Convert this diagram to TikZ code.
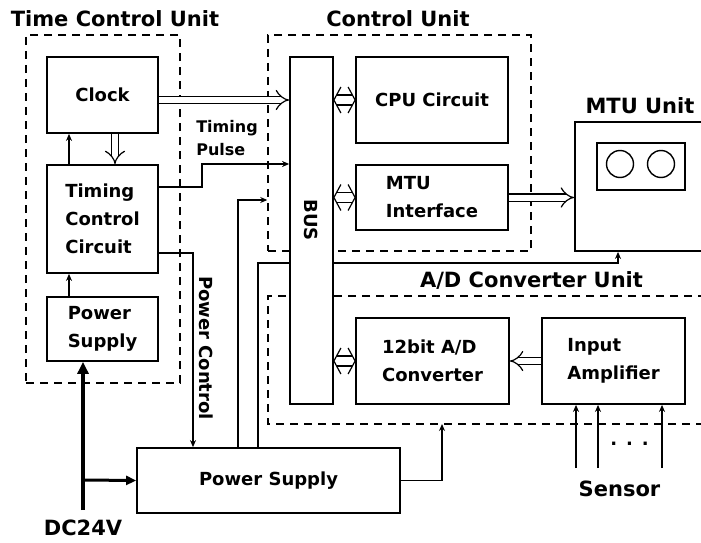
\documentclass[tikz,border=0pt]{standalone}
\usepackage{fontspec}
\setmainfont{DejaVu Sans}
\usetikzlibrary{arrows.meta}

\begin{document}
\begin{tikzpicture}[x=1pt,y=-1pt,
    blk/.style={draw,line width=1.8pt,fill=white,inner sep=0pt,align=left,
      font=\bfseries\fontsize{18}{28}\selectfont},
    unit/.style={draw,dash pattern=on 8pt off 6pt,line width=1.5pt,inner sep=0pt},
    ttl/.style={anchor=base,font=\bfseries\fontsize{21}{25}\selectfont},
    ln/.style={line width=1.4pt},
    dbl/.style={double,double distance=6pt,line width=1.2pt,-{Implies}},
    >={Stealth[length=7pt,width=6pt]}]
    \useasboundingbox (0,0) rectangle (701,543);
    \clip (0,0) rectangle (701,543);
    % unit frames
    \node[unit,minimum width=154pt,minimum height=348pt] (tcu) at (103,209) {};
    \node[unit,minimum width=263pt,minimum height=216pt] (cu) at (399.5,143) {};
    \draw[unit] (720,296) -| (268,424) -- (720,424);
    \node[ttl] (tcut) at (115,27) {Time Control Unit};
    \node[ttl] (cut) at (398,27) {Control Unit};
    \node[ttl] (mtut) at (640,113) {MTU Unit};
    \node[ttl] (adt) at (531.5,287) {A/D Converter Unit};
    \node[ttl] (dc) at (83,535) {DC24V};
    \node[ttl] (sensor) at (619.5,496) {Sensor};
    % blocks
    \node[blk,minimum width=111pt,minimum height=76pt] (clock) at (102.5,95) {Clock};
    \node[blk,minimum width=111pt,minimum height=108pt] (tcc) at (102.5,219) {Timing\\Control\\Circuit};
    \node[blk,minimum width=111pt,minimum height=64pt] (ps1) at (102.5,329) {Power\\Supply};
    \node[blk,minimum width=263pt,minimum height=65pt] (ps2) at (268.5,480.5) {Power Supply};
    \node[blk,minimum width=152pt,minimum height=86pt] (cpu) at (432,100) {CPU Circuit};
    \node[blk,minimum width=152pt,minimum height=65pt] (mtuif) at (432,197.5) {MTU\\Interface};
    \node[blk,minimum width=153pt,minimum height=86pt] (adc) at (432.5,361) {12bit A/D\\Converter};
    \node[blk,minimum width=143pt,minimum height=86pt] (amp) at (613.5,361) {Input\\Amplifier};
    \node[blk,minimum width=155pt,minimum height=129pt] (mtu) at (652.5,186.5) {};
    \node[blk,minimum width=88pt,minimum height=47pt] (disp) at (641,166.5) {};
    \node[draw,circle,line width=1.4pt,minimum size=27pt,inner sep=0pt] (reel1) at (620,164) {};
    \node[draw,circle,line width=1.4pt,minimum size=27pt,inner sep=0pt] (reel2) at (661,164) {};
    % power lines passing the bus
    \coordinate (pb) at (258,263);
    \coordinate (pm) at (618,263);
    \coordinate (pc) at (238,200);
    \coordinate (pa) at (442,424);
    \coordinate (tp) at (202,164);
    \node[blk,minimum width=43pt,minimum height=347pt] (bus) at (311.5,230.5) {};
    \node[rotate=-90,font=\bfseries\fontsize{18}{20}\selectfont] (bustxt) at (311,220) {BUS};
    \draw[ln] (ps2.north -| pb) |- (bus.west |- pb);
    \draw[ln,->] (bus.east |- pb) -| (mtu.south -| pm);
    \draw[ln,->] (ps2.north -| pc) |- (cu.west |- pc);
    \draw[ln,->] (ps2.east) -| (pa);
    % time control unit
    \draw[ln,->] ([xshift=-33.5pt]tcc.north) -- ([xshift=-33.5pt]clock.south);
    \draw[dbl] ([xshift=12.5pt]clock.south) -- ([xshift=12.5pt]tcc.north);
    \draw[ln,->] ([xshift=-33.5pt]ps1.north) -- ([xshift=-33.5pt]tcc.south);
    \draw[dbl] (clock.east |- cpu) -- (bus.west |- cpu);
    \draw[ln,->] ([yshift=32pt]tcc.east) -| (tp) -- (bus.west |- tp);
    \draw[ln,->] ([yshift=-34pt]tcc.east) -| ([xshift=-75.5pt]ps2.north);
    \node[align=left,font=\bfseries\fontsize{16}{23}\selectfont] (tplbl) at (227,138) {Timing\\Pulse};
    \node[rotate=-90,font=\bfseries\fontsize{18}{20}\selectfont] (pclbl) at (206,348) {Power Control};
    % DC24V input
    \coordinate (dcin) at (83,510);
    \coordinate (dcj) at (83,480);
    \draw[line width=4pt,-{Triangle[length=12pt,width=11pt]}] (dcin) -- (dcin |- ps1.south);
    \draw[line width=3pt,-{Triangle[length=10pt,width=9pt]}] (dcj) -- (ps2.west);
    % bus links, both ways
    \foreach \n in {cpu,mtuif,adc} {
      \coordinate (bl) at (bus.east |- \n);
      \coordinate (br) at (\n.west);
      \draw[line width=1.2pt] ([shift={(7,-13)}]bl) -- (bl) -- ([shift={(7,13)}]bl);
      \draw[line width=1.2pt] ([shift={(-7,-13)}]br) -- (br) -- ([shift={(-7,13)}]br);
      \draw[line width=1.2pt] ([shift={(2.7,-5)}]bl) -- ([shift={(-2.7,-5)}]br);
      \draw[line width=1.2pt] ([shift={(2.7,5)}]bl) -- ([shift={(-2.7,5)}]br);
    }
    \draw[dbl] (mtuif.east) -- (mtu.west |- mtuif);
    \draw[dbl] (amp.west) -- (adc.east);
    % sensors
    \foreach \x in {576,598,662} {
      \coordinate (s\x) at (\x,468);
      \draw[ln,->] (s\x) -- (s\x |- amp.south);
    }
    \node[font=\bfseries\fontsize{18}{20}\selectfont] (dots) at (629.5,444) {.\hspace{9pt}.\hspace{9pt}.};
\end{tikzpicture}
\end{document}
